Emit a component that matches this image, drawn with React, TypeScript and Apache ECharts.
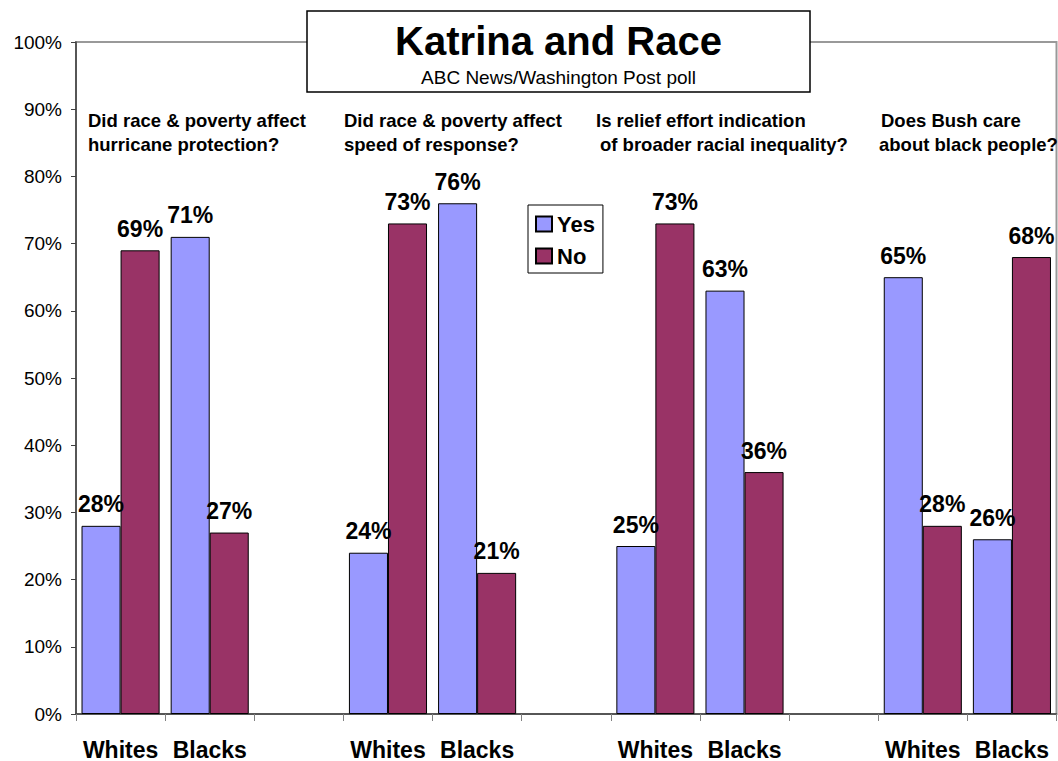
import React, { useEffect, useRef } from "react";
import * as echarts from "echarts";

const categories = ["Whites", "Blacks", "", "Whites", "Blacks", "", "Whites", "Blacks", "", "Whites", "Blacks"];
const yesValues = [28, 71, null, 24, 76, null, 25, 63, null, 65, 26];
const noValues = [69, 27, null, 73, 21, null, 73, 36, null, 28, 68];
const seriesNames = ["Yes", "No"];
const titleText = "Katrina and Race";
const subtitleText = "ABC News/Washington Post poll";
const questions = [
  ["Did race & poverty affect", "hurricane protection?"],
  ["Did race & poverty affect", "speed of response?"],
  ["Is relief effort indication", "of broader racial inequality?"],
  ["Does Bush care", "about black people?"],
];

const FONT = "'Liberation Sans', Arial, Helvetica, sans-serif";
const questionPos = [
  [88, 88],
  [344, 344],
  [596, 600],
  [881, 879],
];

export default function App() {
  const ref = useRef<HTMLDivElement>(null);
  useEffect(() => {
    if (!ref.current) return;
    const chart = echarts.init(ref.current, undefined, { renderer: "svg" });
    const qElems: any[] = [];
    questions.forEach((q, i) => {
      q.forEach((line, j) => {
        qElems.push({
          type: "text",
          x: questionPos[i][j],
          y: 120 + j * 24,
          style: {
            text: line,
            fill: "#000",
            font: `bold 18.5px ${FONT}`,
            textVerticalAlign: "middle",
          },
          z: 50,
        });
      });
    });
    const labelCfg = {
      show: true,
      position: "top",
      distance: 10,
      formatter: "{c}%",
      fontSize: 23,
      fontWeight: "bold",
      color: "#000",
      fontFamily: FONT,
    };
    chart.setOption({
      animation: false,
      backgroundColor: "#fff",
      textStyle: { fontFamily: FONT },
      grid: {
        left: 76,
        right: 1.5,
        top: 42,
        bottom: 47,
        show: true,
        borderColor: "#999",
        borderWidth: 2,
        backgroundColor: "transparent",
      },
      legend: {
        data: seriesNames,
        orient: "vertical",
        left: 528,
        top: 205,
        itemWidth: 16,
        itemHeight: 15,
        itemGap: 10,
        icon: "rect",
        padding: [8, 8, 6, 7],
        borderColor: "#000",
        borderWidth: 1,
        backgroundColor: "#fff",
        textStyle: { fontSize: 22, fontWeight: "bold", color: "#000", fontFamily: FONT },
      },
      xAxis: {
        type: "category",
        data: categories,
        axisLine: { lineStyle: { color: "#404040", width: 1.5 } },
        axisTick: { show: true, alignWithLabel: false, interval: 0, length: 7, lineStyle: { color: "#808080" } },
        axisLabel: {
          interval: 0,
          fontSize: 23,
          fontWeight: "bold",
          color: "#000",
          margin: 24,
          fontFamily: FONT,
        },
        splitLine: { show: false },
      },
      yAxis: {
        type: "value",
        min: 0,
        max: 100,
        interval: 10,
        axisLine: { show: true, lineStyle: { color: "#404040", width: 1.5 } },
        axisTick: { show: true, length: 5, lineStyle: { color: "#404040" } },
        axisLabel: { formatter: "{value}%", fontSize: 19, color: "#000", margin: 14, fontFamily: FONT },
        splitLine: { show: false },
      },
      series: [
        {
          name: seriesNames[0],
          type: "bar",
          data: yesValues,
          barGap: "0%",
          barCategoryGap: "12.4%",
          itemStyle: { color: "#9999FF", borderColor: "#000", borderWidth: 1 },
          label: labelCfg,
        },
        {
          name: seriesNames[1],
          type: "bar",
          data: noValues,
          barGap: "0%",
          barCategoryGap: "12.4%",
          itemStyle: { color: "#993366", borderColor: "#000", borderWidth: 1 },
          label: labelCfg,
        },
      ],
      graphic: [
        {
          type: "rect",
          shape: { x: 307, y: 11, width: 503, height: 81 },
          style: { fill: "#fff", stroke: "#000", lineWidth: 1.5 },
          z: 100,
        },
        {
          type: "text",
          x: 558.5,
          y: 41,
          style: {
            text: titleText,
            fill: "#000",
            font: `bold 40px ${FONT}`,
            textAlign: "center",
            textVerticalAlign: "middle",
          },
          z: 101,
        },
        {
          type: "text",
          x: 558.5,
          y: 77,
          style: {
            text: subtitleText,
            fill: "#000",
            font: `19px ${FONT}`,
            textAlign: "center",
            textVerticalAlign: "middle",
          },
          z: 101,
        },
        ...qElems,
      ],
    });
    return () => chart.dispose();
  }, []);
  return <div ref={ref} style={{ width: 1058, height: 761, position: "absolute", left: 0, top: 0 }} />;
}
